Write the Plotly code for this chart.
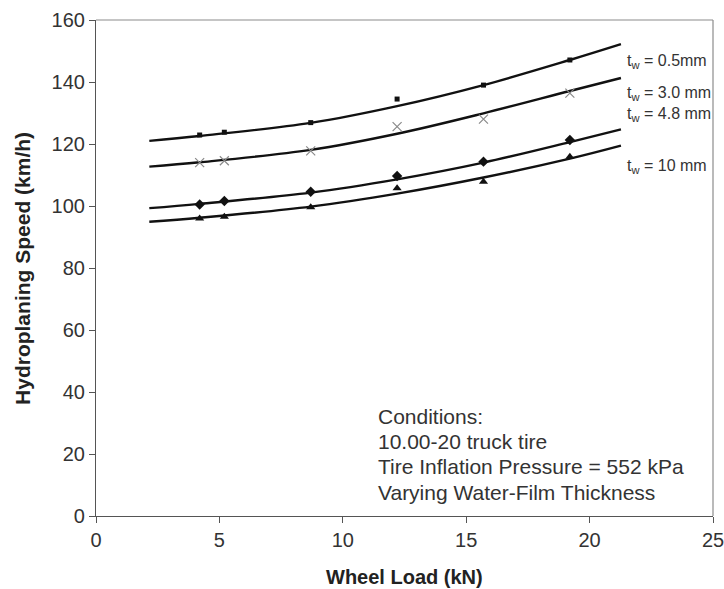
import plotly.graph_objects as go

# ---- data ----
wheel_load = [4.2, 5.2, 8.7, 12.2, 15.7, 19.2]
speed_05 = [122.9, 123.8, 126.9, 134.5, 139.0, 147.1]
speed_30 = [114.0, 114.6, 117.8, 125.6, 128.0, 136.4]
speed_48 = [100.5, 101.6, 104.6, 109.7, 114.3, 121.3]
speed_10 = [96.0, 96.5, 99.6, 105.7, 107.8, 115.9]

# fitted trend curves
fit_load = [2.16, 4.2, 8.7, 12.2, 15.7, 19.2, 21.27]
fit_05 = [121.0, 122.6, 126.8, 132.2, 139.0, 147.1, 152.2]
fit_30 = [112.7, 114.1, 118.1, 123.3, 129.9, 137.1, 141.3]
fit_48 = [99.3, 100.7, 104.3, 108.6, 114.0, 120.6, 124.7]
fit_10 = [94.9, 96.2, 99.8, 104.0, 109.2, 115.3, 119.5]

series_labels = ["t<sub>w</sub> = 0.5mm", "t<sub>w</sub> = 3.0 mm",
                 "t<sub>w</sub> = 4.8 mm", "t<sub>w</sub> = 10 mm"]
label_y = [146.5, 136.4, 129.4, 112.7]
label_x = 21.45

conditions_lines = ["Conditions:", "10.00-20 truck tire",
                    "Tire Inflation Pressure = 552 kPa",
                    "Varying Water-Film Thickness"]
conditions_y = [32.2, 24.1, 15.9, 7.5]
conditions_x = 11.35

x_ticks = [0, 5, 10, 15, 20, 25]
y_ticks = [0, 20, 40, 60, 80, 100, 120, 140, 160]

x_title = "Wheel Load (kN)"
y_title = "Hydroplaning Speed (km/h)"

FONT = "Liberation Sans, Arial, sans-serif"

fig = go.Figure()

for fy in [fit_05, fit_30, fit_48, fit_10]:
    fig.add_trace(go.Scatter(x=fit_load, y=fy, mode="lines",
                             line=dict(color="#111111", width=2.4, shape="spline", smoothing=1.0),
                             showlegend=False, hoverinfo="skip"))

marker_styles = [
    (speed_05, dict(symbol="square", size=5, color="#111111")),
    (speed_30, dict(symbol="x-thin", size=9, color="#8a8a8a", line=dict(color="#8a8a8a", width=1.2))),
    (speed_48, dict(symbol="diamond", size=8, color="#111111")),
    (speed_10, dict(symbol="triangle-up", size=8, color="#111111")),
]
for ys, m in marker_styles:
    fig.add_trace(go.Scatter(x=wheel_load, y=ys, mode="markers", marker=m, showlegend=False))

annotations = []
for txt, yy in zip(series_labels, label_y):
    annotations.append(dict(x=label_x, y=yy, xref="x", yref="y", text=txt, showarrow=False,
                            xanchor="left", yanchor="middle",
                            font=dict(family=FONT, size=16, color="#333333")))
for txt, yy in zip(conditions_lines, conditions_y):
    annotations.append(dict(x=conditions_x, y=yy, xref="x", yref="y", text=txt, showarrow=False,
                            xanchor="left", yanchor="middle",
                            font=dict(family=FONT, size=21, color="#333333")))
# axis titles
annotations.append(dict(x=-0.12, y=0.5, xref="paper", yref="paper", text="<b>" + y_title + "</b>",
                        textangle=-90, showarrow=False, xanchor="center", yanchor="middle",
                        font=dict(family=FONT, size=21, color="#222222")))
annotations.append(dict(x=0.5, y=-0.123, xref="paper", yref="paper", text="<b>" + x_title + "</b>",
                        showarrow=False, xanchor="center", yanchor="middle",
                        font=dict(family=FONT, size=20, color="#222222")))

# light frame on top and right
shapes = [
    dict(type="line", xref="paper", yref="paper", x0=0, x1=1, y0=1, y1=1,
         line=dict(color="#8c8c8c", width=1.2)),
    dict(type="line", xref="paper", yref="paper", x0=1, x1=1, y0=0, y1=1,
         line=dict(color="#8c8c8c", width=1.2)),
]

fig.update_layout(
    width=724, height=589,
    margin=dict(l=96, r=11, t=20, b=73),
    paper_bgcolor="white", plot_bgcolor="white",
    font=dict(family=FONT, color="#333333"),
    annotations=annotations,
    shapes=shapes,
    xaxis=dict(range=[0, 25], tickvals=x_ticks, showgrid=False, zeroline=False, automargin=False,
               showline=True, linecolor="#555555", linewidth=1.2,
               ticks="outside", ticklen=6, tickcolor="#555555", ticklabeloverflow="allow",
               tickfont=dict(family=FONT, size=20, color="#333333")),
    yaxis=dict(range=[0, 160], tickvals=y_ticks, showgrid=False, zeroline=False, automargin=False,
               showline=True, linecolor="#555555", linewidth=1.2,
               ticks="outside", ticklen=6, tickcolor="#555555", ticklabeloverflow="allow",
               tickfont=dict(family=FONT, size=20, color="#333333")),
)

fig.write_html("out.html", config={"displayModeBar": False},
               post_script="document.body.style.margin='0px';document.body.style.overflow='hidden';")
